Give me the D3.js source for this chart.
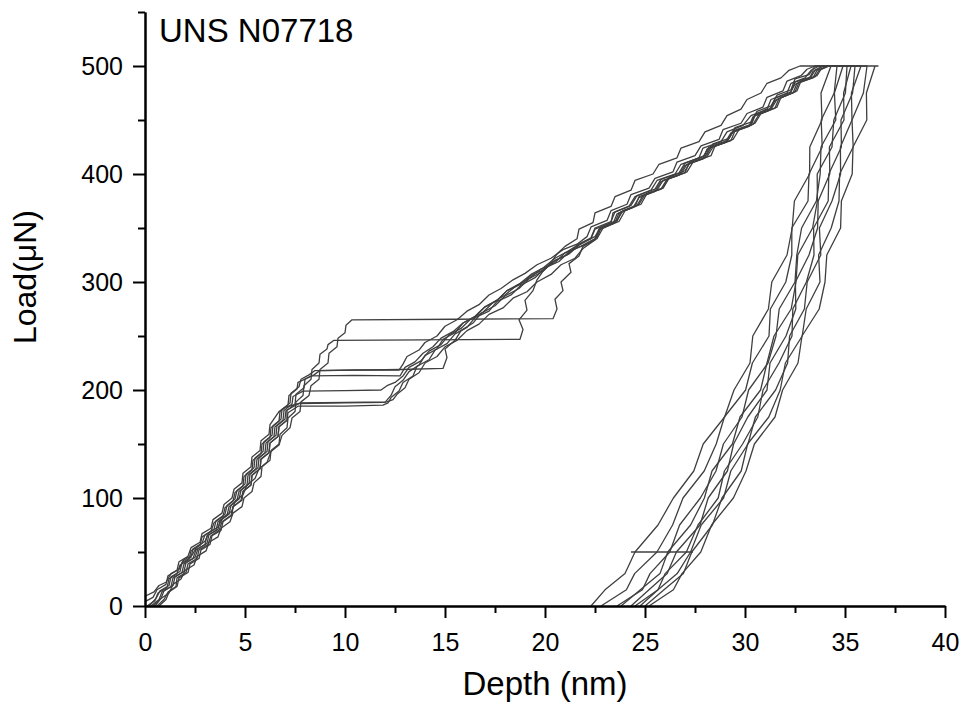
<!DOCTYPE html>
<html>
<head>
<meta charset="utf-8">
<script src="https://cdn.jsdelivr.net/npm/d3@7"></script>
<style>
  body { margin: 0; background: #fff; }
  text { font-family: "Liberation Sans", Arial, sans-serif; fill: #000; }
</style>
</head>
<body>
<svg id="chart" width="966" height="713"></svg>
<script>
// tick values
var xMajor = [0, 5, 10, 15, 20, 25, 30, 35, 40];
var xMinor = [2.5, 7.5, 12.5, 17.5, 22.5, 27.5, 32.5, 37.5];
var yMajor = [0, 100, 200, 300, 400, 500];
var yMinor = [50, 150, 250, 350, 450, 550];

// loading + hold segments, [depth nm, load uN]
var loadA = [[0,9],[0.45,13],[0.7,19],[1.05,22],[1.3,30],[1.7,34],[1.9,42],[2.35,47],[2.6,55],[3.0,60],[3.2,68],[3.65,73],[3.9,82],[4.35,88],[4.5,97],[4.9,103],[5.1,112],[5.5,118],[5.7,127],[6.1,133],[6.3,143],[6.7,149],[6.85,158],[7.25,165],[7.35,174],[7.75,180],[7.8,189],[8.2,195],[8.3,204],[8.7,210],[8.75,219],[9.15,225],[9.2,234],[9.6,240],[9.65,248],[10.0,253],[10.05,260],[10.35,265],[15.5,265.5],[20.4,266],[20.6,275],[20.5,284],[20.9,292],[20.8,300],[21.3,309],[21.2,317],[21.7,324],[21.9,333],[22.6,340],[22.9,350],[23.7,356],[24.0,366],[24.8,372],[25.1,382],[25.9,387],[26.2,397],[27.0,403],[27.3,412],[28.1,418],[28.4,428],[29.2,433],[29.5,443],[30.3,448],[30.6,458],[31.3,463],[31.6,473],[32.3,478],[32.5,488],[33.2,492],[33.5,500],[36.65,500]];
var loadB = [[0.5,0],[0.8,7],[1.2,12],[1.4,20],[1.8,25],[2.0,33],[2.45,38],[2.6,46],[3.05,51],[3.2,59],[3.65,64],[3.8,72],[4.25,78],[4.4,86],[4.85,92],[4.95,100],[5.35,106],[5.45,114],[5.8,120],[5.85,129],[6.25,135],[6.3,144],[6.7,150],[6.75,159],[7.1,165],[7.15,174],[7.5,180],[7.55,189],[7.9,195],[7.95,204],[8.3,210],[8.35,219],[8.7,225],[8.75,233],[9.1,238],[9.15,242],[9.45,246],[14.0,246.5],[18.75,247],[18.9,256],[18.7,265],[19.1,274],[19.0,283],[19.4,292],[19.6,302],[19.9,310],[20.3,318],[20.6,326],[21.0,333],[21.6,340],[21.7,349],[22.4,355],[22.5,364],[23.3,370],[23.5,379],[24.3,385],[24.5,394],[25.4,400],[25.7,409],[26.6,415],[26.8,424],[27.7,430],[28.0,439],[28.8,445],[29.1,454],[29.8,460],[30.1,469],[30.8,475],[31.1,484],[31.8,489],[32.2,496],[32.75,500],[34.3,500]];
var loadC = [[0.6,0],[0.95,6],[1.15,13],[1.55,18],[1.6,26],[2.05,31],[2.15,39],[2.6,44],[2.7,52],[3.15,57],[3.3,65],[3.7,70],[3.85,78],[4.3,84],[4.4,92],[4.8,98],[4.9,106],[5.3,112],[5.35,121],[5.75,127],[5.8,136],[6.2,142],[6.25,151],[6.65,157],[6.7,166],[7.1,172],[7.1,181],[7.5,187],[7.55,196],[7.95,202],[8.0,210],[8.45,214],[8.75,218],[12.8,219],[14.9,220],[15.1,230],[15.0,238],[15.5,246],[15.8,255],[16.4,262],[16.8,271],[17.5,278],[18.0,287],[18.7,294],[19.2,303],[19.9,310],[20.4,319],[21.1,325],[21.6,334],[22.3,341],[22.5,350],[23.3,356],[23.5,365],[24.3,371],[24.6,380],[25.5,386],[25.8,395],[26.7,401],[27.0,410],[27.9,416],[28.2,425],[29.1,431],[29.4,440],[30.3,446],[30.5,455],[31.3,461],[31.5,470],[32.3,476],[32.5,485],[33.3,490],[33.5,496],[33.9,500],[35.3,500]];
var loadD = [[0.1,0],[0.5,5],[0.65,12],[1.1,17],[1.2,25],[1.6,30],[1.75,38],[2.2,43],[2.3,51],[2.75,56],[2.85,64],[3.3,69],[3.45,77],[3.9,83],[4.0,91],[4.4,97],[4.5,105],[4.9,111],[4.95,120],[5.35,126],[5.4,135],[5.8,141],[5.85,150],[6.25,156],[6.3,165],[6.7,171],[6.75,180],[7.15,186],[7.2,195],[7.6,201],[7.65,207],[8.0,210],[8.3,213],[10.5,213.5],[12.75,213],[13.0,221],[13.5,226],[13.9,234],[14.4,240],[14.8,248],[15.4,254],[15.9,262],[16.5,268],[17.0,277],[17.6,283],[18.1,292],[18.8,298],[19.3,306],[20.0,312],[20.5,320],[21.2,326],[21.7,334],[22.3,340],[22.5,349],[23.3,355],[23.4,364],[24.2,370],[24.5,379],[25.3,385],[25.6,394],[26.5,400],[26.8,409],[27.7,415],[27.9,424],[28.8,430],[29.1,439],[29.9,445],[30.3,454],[31.1,460],[31.3,469],[32.1,475],[32.3,484],[33.0,489],[33.3,496],[33.7,500],[34.9,500]];
var loadE = [[0.3,0],[0.7,6],[0.85,13],[1.3,18],[1.4,26],[1.85,31],[1.95,39],[2.4,44],[2.55,52],[3.0,57],[3.1,65],[3.55,70],[3.65,78],[4.1,84],[4.2,92],[4.6,98],[4.7,106],[5.1,112],[5.15,121],[5.55,127],[5.6,136],[6.0,142],[6.05,151],[6.45,157],[6.5,166],[6.9,172],[6.95,181],[7.35,187],[7.4,194],[7.9,199],[10.0,199.5],[11.8,200],[12.1,204],[12.5,207],[12.9,213],[13.2,221],[13.8,227],[14.2,236],[14.8,242],[15.2,251],[15.8,257],[16.3,266],[16.9,272],[17.4,281],[18.0,288],[18.6,297],[19.2,303],[19.8,312],[20.5,318],[21.0,327],[21.8,333],[22.5,340],[22.7,349],[23.5,355],[23.7,364],[24.5,370],[24.7,379],[25.6,385],[25.9,394],[26.8,400],[27.1,409],[28.0,415],[28.2,424],[29.1,430],[29.4,439],[30.3,445],[30.5,454],[31.3,460],[31.6,469],[32.4,475],[32.6,484],[33.4,489],[33.6,496],[34.1,500],[35.8,500]];
var loadF = [[0.4,0],[0.8,7],[0.95,14],[1.4,19],[1.5,27],[1.95,32],[2.05,40],[2.5,45],[2.65,53],[3.1,58],[3.2,66],[3.65,71],[3.75,79],[4.2,85],[4.3,93],[4.7,99],[4.8,107],[5.2,113],[5.25,122],[5.65,128],[5.7,137],[6.1,143],[6.15,152],[6.55,158],[6.6,167],[7.0,173],[7.05,181],[7.45,185],[7.75,188],[10.0,188.5],[12.1,189],[12.4,191],[12.6,196],[13.0,202],[13.2,210],[13.7,216],[14.0,225],[14.6,231],[15.0,240],[15.6,246],[16.1,255],[16.7,261],[17.2,270],[17.9,276],[18.4,285],[19.1,291],[19.6,300],[20.3,307],[20.8,316],[21.5,322],[21.9,331],[22.5,339],[22.7,348],[23.4,354],[23.6,363],[24.4,369],[24.7,378],[25.5,384],[25.8,393],[26.7,399],[27.0,408],[27.9,414],[28.1,423],[29.0,429],[29.3,438],[30.2,444],[30.4,453],[31.2,459],[31.5,468],[32.2,474],[32.5,483],[33.2,488],[33.4,495],[33.9,500],[35.1,500]];
var loadG = [[0.7,0],[1.05,6],[1.2,13],[1.6,18],[1.7,26],[2.15,31],[2.25,39],[2.7,44],[2.8,52],[3.25,57],[3.35,65],[3.8,70],[3.9,78],[4.35,84],[4.4,92],[4.85,98],[4.9,106],[5.3,112],[5.35,121],[5.75,127],[5.8,136],[6.2,142],[6.25,151],[6.65,157],[6.7,166],[7.1,172],[7.15,179],[7.65,185],[10.0,185],[11.9,186],[12.15,188],[12.3,193],[12.7,199],[12.9,207],[13.4,213],[13.6,222],[14.2,228],[14.5,237],[15.1,243],[15.5,252],[16.1,258],[16.5,267],[17.2,273],[17.6,282],[18.3,288],[18.8,297],[19.5,304],[20.0,313],[20.7,319],[21.2,328],[21.9,334],[22.6,341],[22.8,350],[23.6,356],[23.8,365],[24.6,371],[24.9,380],[25.8,386],[26.1,395],[27.0,401],[27.2,410],[28.1,416],[28.4,425],[29.3,431],[29.5,440],[30.4,446],[30.7,455],[31.5,461],[31.7,470],[32.5,476],[32.7,485],[33.5,490],[33.7,496],[34.2,500],[35.5,500]];
var loadH = [[0.2,0],[0.55,7],[0.75,14],[1.2,19],[1.3,27],[1.75,32],[1.85,40],[2.3,45],[2.4,53],[2.85,58],[3.0,66],[3.45,71],[3.55,79],[4.0,85],[4.1,93],[4.5,99],[4.6,107],[5.0,113],[5.05,122],[5.45,128],[5.5,137],[5.9,143],[5.95,152],[6.35,158],[6.4,167],[6.8,173],[6.85,182],[7.25,188],[7.3,197],[7.7,203],[7.8,210],[8.2,214],[8.5,218],[10.5,218.5],[12.7,218.5],[12.9,224],[13.1,231],[13.7,237],[14.0,244],[14.6,250],[15.0,259],[15.6,265],[16.1,273],[16.7,279],[17.2,288],[17.8,294],[18.4,302],[19.0,308],[19.6,316],[20.3,322],[20.9,330],[21.6,335],[22.1,342],[22.3,351],[23.1,357],[23.3,366],[24.1,372],[24.3,381],[25.2,387],[25.5,396],[26.4,402],[26.6,411],[27.5,417],[27.8,426],[28.7,432],[28.9,441],[29.8,447],[30.1,456],[30.9,462],[31.1,471],[31.9,477],[32.1,486],[32.8,491],[33.1,497],[33.5,500],[34.6,500]];
var loadI = [[0.0,4],[0.4,8],[0.6,15],[1.05,20],[1.15,28],[1.6,33],[1.7,41],[2.15,46],[2.3,54],[2.75,59],[2.85,67],[3.3,72],[3.4,80],[3.85,86],[3.95,94],[4.35,100],[4.45,108],[4.85,114],[4.9,123],[5.3,129],[5.35,138],[5.75,144],[5.8,153],[6.2,159],[6.25,168],[6.7,180],[7.0,184],[7.7,187.5],[10.0,188],[12.0,188.5],[12.3,195],[12.5,203],[12.9,209],[13.2,217],[13.7,223],[14.0,232],[14.6,238],[14.9,247],[15.5,253],[15.9,262],[16.5,268],[17.0,277],[17.6,283],[18.1,292],[18.7,298],[19.3,307],[19.9,313],[20.5,322],[21.1,328],[21.8,336],[22.5,342],[22.8,351],[23.6,357],[23.9,366],[24.7,372],[25.0,381],[25.9,387],[26.2,396],[27.1,402],[27.4,411],[28.3,417],[28.5,426],[29.4,432],[29.7,441],[30.5,447],[30.8,456],[31.6,462],[31.8,471],[32.6,477],[32.8,486],[33.6,491],[33.8,497],[34.2,500],[36.1,500]];

// unloading: shared load levels, one depth list per test
var unloadLoads = [500, 475, 450, 425, 400, 375, 350, 325, 300, 275, 250, 225, 200, 175, 150, 125, 100, 75, 50, 30, 15, 0];
var unloadA = [36.5, 36.07, 36.09, 35.4, 35.36, 34.82, 34.78, 34.09, 34.0, 33.71, 32.85, 32.65, 31.88, 31.5, 30.47, 30.05, 29.42, 28.33, 27.79, 26.85, 26.42, 25.2];
var unloadB = [34.3, 33.8, 33.85, 33.24, 33.23, 32.47, 32.36, 32.1, 31.34, 31.17, 30.39, 30.25, 29.45, 28.98, 27.91, 27.44, 26.42, 25.65, 24.5, 24.0, 23.0, 22.3];
var unloadC = [35.3, 34.93, 34.95, 34.22, 34.24, 33.66, 33.63, 33.2, 32.52, 32.54, 32.05, 31.25, 31.1, 30.14, 29.43, 29.12, 28.16, 27.75, 26.57, 26.11, 25.2, 24.3];
var unloadD = [34.9, 34.47, 34.54, 33.8, 33.76, 33.57, 32.83, 32.59, 32.5, 31.71, 31.55, 31.15, 30.18, 29.85, 28.92, 28.55, 27.77, 26.73, 26.24, 25.25, 24.87, 23.6];
var unloadE = [35.8, 35.32, 35.35, 34.77, 34.78, 34.35, 33.72, 33.79, 33.11, 32.97, 32.23, 32.13, 31.53, 30.52, 30.15, 29.29, 28.93, 27.81, 27.28, 26.61, 25.65, 24.75];
var unloadF = [35.1, 35.02, 34.44, 34.35, 33.61, 33.62, 33.38, 32.64, 32.55, 32.31, 31.45, 31.1, 30.78, 29.75, 29.37, 28.35, 27.97, 27.28, 26.14, 25.75, 24.77, 23.8];
var unloadG = [35.5, 35.38, 34.8, 34.82, 34.19, 34.16, 33.43, 33.45, 33.07, 32.39, 32.35, 31.7, 30.9, 30.64, 29.88, 28.97, 28.66, 27.65, 27.07, 26.01, 25.65, 24.5];
var unloadH = [34.6, 34.46, 33.81, 33.86, 33.2, 33.15, 32.34, 32.34, 32.04, 31.27, 31.2, 30.37, 30.03, 28.97, 28.56, 27.96, 26.9, 26.38, 25.6, 24.48, 24.07, 22.8];
var unloadI = [36.1, 35.92, 35.35, 35.41, 34.73, 34.7, 34.31, 33.68, 33.75, 33.06, 32.86, 32.02, 31.76, 31.19, 30.13, 29.81, 28.85, 28.37, 27.34, 26.92, 25.95, 25.0];

// short hold line near the end of unloading
var driftHold = [[24.3, 50], [27.4, 50]];

var tests = [
  [loadA, unloadA], [loadB, unloadB], [loadC, unloadC], [loadD, unloadD], [loadE, unloadE],
  [loadF, unloadF], [loadG, unloadG], [loadH, unloadH], [loadI, unloadI]
];

var svg = d3.select("#chart");
var x = d3.scaleLinear().domain([0, 40]).range([145, 945]);
var y = d3.scaleLinear().domain([0, 550]).range([606, 12]);

var line = d3.line()
  .x(function(d) { return x(d[0]); })
  .y(function(d) { return y(d[1]); });

var curves = svg.append("g").attr("class", "curves");
tests.forEach(function(t) {
  var pts = t[0].concat(t[1].map(function(dep, i) { return [dep, unloadLoads[i]]; }));
  curves.append("path")
    .datum(pts)
    .attr("d", line)
    .attr("fill", "none")
    .attr("stroke", "#3f3f3f")
    .attr("stroke-width", 1.3)
    .attr("stroke-linejoin", "round");
});
curves.append("path")
  .datum(driftHold)
  .attr("d", line)
  .attr("fill", "none")
  .attr("stroke", "#3f3f3f")
  .attr("stroke-width", 1.3);

function styleAxis(g) {
  g.select(".domain").attr("stroke", "#000").attr("stroke-width", 2);
  g.selectAll(".tick line").attr("stroke", "#000").attr("stroke-width", 2);
  g.selectAll(".tick text").attr("font-size", "25px").attr("fill", "#000")
    .attr("font-family", "'Liberation Sans', Arial, sans-serif");
}

// x axis
svg.append("g")
  .attr("transform", "translate(0,606)")
  .call(d3.axisBottom(x).tickValues(xMinor).tickSize(7).tickSizeOuter(0).tickFormat(""))
  .call(styleAxis);
svg.append("g")
  .attr("transform", "translate(0,606)")
  .call(d3.axisBottom(x).tickValues(xMajor).tickSize(12).tickSizeOuter(0).tickPadding(15).tickFormat(d3.format("d")))
  .call(styleAxis);

// y axis
svg.append("g")
  .attr("transform", "translate(145,0)")
  .call(d3.axisLeft(y).tickValues(yMinor).tickSize(7).tickSizeOuter(0).tickFormat(""))
  .call(styleAxis);
svg.append("g")
  .attr("transform", "translate(145,0)")
  .call(d3.axisLeft(y).tickValues(yMajor).tickSize(12).tickSizeOuter(0).tickPadding(10).tickFormat(d3.format("d")))
  .call(styleAxis);

// titles
svg.append("text")
  .attr("x", 545).attr("y", 695)
  .attr("text-anchor", "middle")
  .attr("font-size", "33px")
  .text("Depth (nm)");

svg.append("text")
  .attr("transform", "translate(36,277) rotate(-90)")
  .attr("text-anchor", "middle")
  .attr("font-size", "32px")
  .text("Load(μN)");

svg.append("text")
  .attr("x", 159).attr("y", 42)
  .attr("font-size", "33px")
  .text("UNS N07718");
</script>
</body>
</html>
